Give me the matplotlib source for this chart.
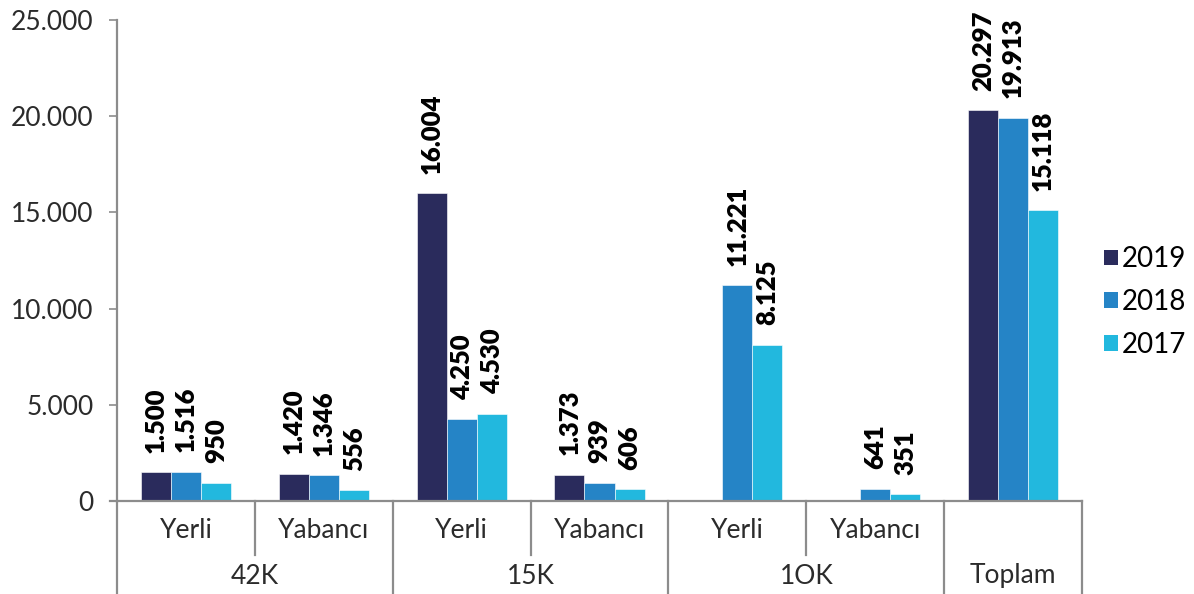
import numpy as np
import matplotlib
matplotlib.use("Agg")
import matplotlib.pyplot as plt
import matplotlib.transforms as mtransforms
from matplotlib.patches import Patch

plt.rcParams['font.family'] = ['Lato', 'DejaVu Sans']

sub_labels = ["Yerli", "Yabancı", "Yerli", "Yabancı", "Yerli", "Yabancı", ""]
group_labels = ["42K", "15K", "1OK", "Toplam"]
group_spans = [(0, 1), (2, 3), (4, 5), (6, 6)]
series_names = ["2019", "2018", "2017"]
v2019 = [1500, 1420, 16004, 1373, np.nan, np.nan, 20297]
v2018 = [1516, 1346, 4250, 939, 11221, 641, 19913]
v2017 = [950, 556, 4530, 606, 8125, 351, 15118]
colors = ["#2a2b5c", "#2584c6", "#22b8de"]
yticks = [0, 5000, 10000, 15000, 20000, 25000]

def fmt(v):
    return f"{int(round(v)):,}".replace(",", ".")

fig = plt.figure(figsize=(11.94, 5.94), dpi=100)
ax = fig.add_axes([117/1194, 1 - 501/594, (1082-117)/1194, 481/594])

x = np.arange(len(sub_labels))
w = 0.218
gray = "#8c8c8c"
txt = "#2b2b2b"
for i, (vals, c) in enumerate(zip([v2019, v2018, v2017], colors)):
    xs = x + (i - 1) * w
    ax.bar(xs, vals, width=w, color=c, edgecolor="white", linewidth=0.4)
    for xi, v in zip(xs, vals):
        if np.isnan(v):
            continue
        ax.annotate(fmt(v), (xi, v), xytext=(0, 14), textcoords="offset points",
                    rotation=90, ha="center", va="bottom", fontsize=18.5,
                    fontweight="heavy", color="black")

ax.set_xlim(-0.5, 6.5)
ax.set_ylim(0, 25000)
ax.set_yticks(yticks)
ax.set_yticklabels([fmt(t) for t in yticks], fontsize=19, color=txt)
ax.tick_params(axis="y", direction="out", length=6, color=gray, width=1.2, pad=11)
ax.set_xticks([])
for s in ["top", "right"]:
    ax.spines[s].set_visible(False)
for s in ["left", "bottom"]:
    ax.spines[s].set_color(gray)
    ax.spines[s].set_linewidth(1.6)
ax.spines["bottom"].set_visible(False)

trans = mtransforms.blended_transform_factory(ax.transData, ax.transAxes)
ax.plot([-0.5 - 0.05, 6.5], [0, 0], transform=trans, color=gray, lw=1.6, clip_on=False)

small_y = -54/481
big_y = -95/481
for b in [0.5, 2.5, 4.5]:
    ax.plot([b, b], [0, small_y], transform=trans, color=gray, lw=1.6, clip_on=False)
for b in [-0.5, 1.5, 3.5, 5.5, 6.5]:
    ax.plot([b, b], [0, big_y], transform=trans, color=gray, lw=1.6, clip_on=False)

for xi, lab in zip(x, sub_labels):
    if lab:
        ax.text(xi, -30/481, lab, transform=trans, ha="center", va="center",
                fontsize=19, color=txt)
for lab, (a, b) in zip(group_labels, group_spans):
    ax.text((a + b) / 2, -75/481, lab, transform=trans, ha="center", va="center",
            fontsize=19, color=txt)

handles = [Patch(facecolor=c, edgecolor="none") for c in colors]
fig.legend(handles, series_names, loc="center left", bbox_to_anchor=(1104/1194, 1 - 302/594),
           frameon=False, handlelength=0.5, handleheight=0.5,
           handletextpad=0.15, labelspacing=0.6, borderpad=0, borderaxespad=0,
           prop={"size": 20})

fig.savefig("out.png", dpi=100)
